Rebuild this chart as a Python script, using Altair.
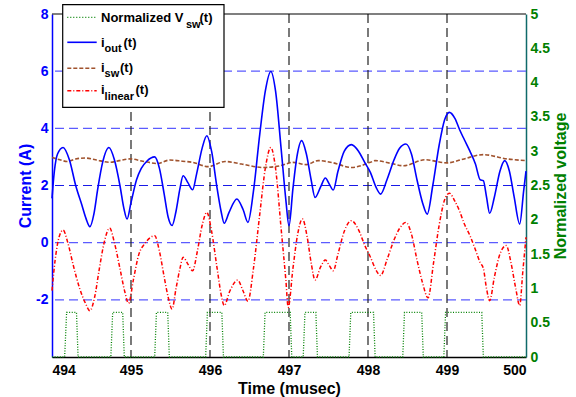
import altair as alt
import pandas as pd

# ---------------- data ----------------
t_out = [494.00, 494.03, 494.07, 494.14, 494.22, 494.30, 494.38, 494.43, 494.48, 494.53,
         494.58, 494.64, 494.72, 494.79, 494.86, 494.91, 494.95, 495.00, 495.07, 495.13,
         495.20, 495.30, 495.36, 495.42, 495.47, 495.52, 495.57, 495.62, 495.66, 495.72,
         495.78, 495.83, 495.90, 495.96, 496.02, 496.09, 496.14, 496.18, 496.24, 496.34,
         496.42, 496.48, 496.55, 496.63, 496.70, 496.77, 496.83, 496.90, 496.96, 497.00,
         497.05, 497.10, 497.16, 497.22, 497.28, 497.33, 497.40, 497.46, 497.51, 497.56,
         497.62, 497.70, 497.79, 497.88, 497.96, 498.03, 498.10, 498.16, 498.24, 498.33,
         498.40, 498.48, 498.55, 498.62, 498.69, 498.75, 498.82, 498.90, 498.97, 499.03,
         499.10, 499.16, 499.22, 499.29, 499.36, 499.42, 499.46, 499.50, 499.54, 499.60,
         499.67, 499.73, 499.79, 499.85, 499.92, 499.97, 500.00]
i_out = [1.55, 2.5, 3.1, 3.33, 2.9, 2.0, 1.3, 0.85, 0.56, 1.0,
         1.9, 2.8, 3.33, 2.9, 2.0, 1.2, 0.83, 1.4, 2.2, 2.6,
         2.85, 3.0, 2.6, 1.7, 0.9, 0.6, 1.1, 1.9, 2.34, 2.1,
         1.85, 2.4, 3.3, 3.74, 3.2, 1.9, 1.1, 0.68, 1.05, 1.53,
         1.15, 0.71, 1.8, 3.8, 5.3, 5.99, 5.3, 3.3, 1.5, 0.59,
         1.9, 3.0, 3.57, 3.1, 2.2, 1.58, 1.95, 2.26, 2.05, 1.84,
         2.5, 3.2, 3.43, 3.2, 2.8, 2.46, 1.95, 1.70, 2.2, 2.9,
         3.3, 3.45, 3.1, 2.2, 1.4, 1.0, 2.0, 3.4, 4.3, 4.56,
         4.35, 3.95, 3.6, 3.2, 2.75, 2.2, 2.17, 1.6, 1.03, 1.6,
         2.5, 2.87, 2.5, 1.6, 0.65, 1.8, 2.5]

t_lin = [494.00, 494.04, 494.09, 494.14, 494.20, 494.27, 494.35, 494.42, 494.48, 494.54,
         494.60, 494.66, 494.73, 494.79, 494.86, 494.92, 494.97, 495.03, 495.10, 495.17,
         495.30, 495.36, 495.42, 495.47, 495.52, 495.57, 495.62, 495.66, 495.72, 495.78,
         495.84, 495.90, 495.96, 496.02, 496.09, 496.14, 496.18, 496.25, 496.35, 496.42,
         496.48, 496.55, 496.63, 496.70, 496.77, 496.83, 496.90, 496.96, 496.99, 497.05,
         497.11, 497.17, 497.23, 497.28, 497.33, 497.40, 497.46, 497.51, 497.56, 497.62,
         497.70, 497.79, 497.88, 497.96, 498.03, 498.10, 498.16, 498.24, 498.33, 498.40,
         498.48, 498.55, 498.62, 498.69, 498.76, 498.83, 498.90, 498.97, 499.03, 499.10,
         499.16, 499.22, 499.29, 499.36, 499.42, 499.46, 499.50, 499.54, 499.60, 499.67,
         499.75, 499.81, 499.87, 499.92, 499.96, 500.00]
i_lin = [-1.68, -0.6, 0.2, 0.44, 0.0, -0.8, -1.6, -2.1, -2.38, -1.9,
         -0.9, 0.0, 0.51, 0.0, -0.9, -1.7, -2.12, -1.3, -0.4, -0.05,
         0.24, -0.3, -1.2, -1.9, -2.32, -1.6, -0.9, -0.51, -0.75, -0.98,
         -0.3, 0.6, 1.06, 0.4, -0.9, -1.8, -2.2, -1.7, -1.31, -1.7,
         -2.05, -0.9, 1.0, 2.6, 3.33, 2.6, 0.5, -1.3, -2.26, -0.9,
         0.3, 0.83, 0.2, -0.7, -1.31, -0.85, -0.61, -0.8, -0.98, -0.4,
         0.4, 0.77, 0.45, -0.1, -0.5, -0.95, -1.15, -0.6, 0.1, 0.5,
         0.71, 0.3, -0.6, -1.4, -1.93, -0.7, 0.6, 1.5, 1.73, 1.45,
         1.1, 0.65, 0.25, -0.25, -0.7, -0.9, -1.6, -2.03, -1.2, -0.4,
         -0.1, -0.7, -1.6, -2.2, -1.0, 0.19]

t_sw = [494.00, 494.10, 494.19, 494.30, 494.42, 494.55, 494.73, 494.85, 494.99, 495.15,
        495.33, 495.49, 495.65, 495.78, 495.98, 496.19, 496.40, 496.67, 496.89, 497.05,
        497.22, 497.37, 497.55, 497.79, 498.03, 498.09, 498.28, 498.45, 498.72, 499.00,
        499.20, 499.46, 499.76, 500.00]
i_sw = [2.98, 2.9, 2.84, 2.93, 2.96, 2.9, 2.81, 2.87, 2.93, 2.85,
        2.77, 2.89, 2.85, 2.81, 2.66, 2.84, 2.75, 2.63, 2.69, 2.81,
        2.73, 2.87, 2.8, 2.63, 2.81, 2.87, 2.78, 2.69, 2.9, 2.79,
        2.92, 3.08, 2.93, 2.87]

# switch voltage pulses: rise start, rise end, fall start, fall end
pulse_edges = [
    (494.160, 494.185, 494.310, 494.330),
    (494.745, 494.768, 494.895, 494.915),
    (495.300, 495.322, 495.465, 495.485),
    (495.945, 495.967, 496.150, 496.170),
    (496.675, 496.697, 497.015, 497.035),
    (497.180, 497.202, 497.340, 497.360),
    (497.760, 497.782, 498.070, 498.090),
    (498.440, 498.462, 498.680, 498.700),
    (498.960, 498.982, 499.440, 499.460),
]
v_high = 0.65

x_ticks = [494, 495, 496, 497, 498, 499, 500]
y_left_ticks = [-2, 0, 2, 4, 6, 8]
y_right_ticks = [0, 0.5, 1, 1.5, 2, 2.5, 3, 3.5, 4, 4.5, 5]
h_grid_light = [-2, 0, 4, 6]
h_grid_dark = [2]
v_grid = [495, 496, 497, 498, 499]

# ---------------- build tables ----------------
df_out = pd.DataFrame({"t": t_out, "v": i_out})
df_lin = pd.DataFrame({"t": t_lin, "v": i_lin})
df_sw = pd.DataFrame({"t": t_sw, "v": i_sw})
g_t, g_v = [494.0], [0.0]
for a, b, c, d in pulse_edges:
    g_t += [a, b, c, d]
    g_v += [0.0, v_high, v_high, 0.0]
g_t.append(500.0)
g_v.append(0.0)
df_v = pd.DataFrame({"t": g_t, "g": g_v})

FONT = "Liberation Sans"
BLUE = "#0000ff"
GREEN = "#008000"
BROWN = "#a0522d"
RED = "#ff0000"

x_enc = alt.X(
    "t:Q",
    scale=alt.Scale(domain=[494, 500], nice=False, zero=False),
    axis=alt.Axis(values=x_ticks, labelExpr="'' + datum.value", title="Time (musec)", ticks=False,
                  labelPadding=6, titlePadding=3, domainColor="black", domainWidth=1.5,
                  labelColor="black", titleColor="black", grid=False),
)
y_left = alt.Y(
    "v:Q",
    scale=alt.Scale(domain=[-4, 8], nice=False, zero=False),
    axis=alt.Axis(values=y_left_ticks, labelExpr="'' + datum.value", title="Current (A)", ticks=False,
                  labelPadding=4, domainColor=BLUE, domainWidth=1.5,
                  labelColor=BLUE, titleColor=BLUE, grid=False, orient="left",
                  titleX=-27, titleY=171.5, titleAngle=270, titleAlign="center",
                  titleBaseline="middle"),
)
y_right = alt.Y(
    "g:Q",
    scale=alt.Scale(domain=[0, 5], nice=False, zero=False),
    axis=alt.Axis(values=y_right_ticks, labelExpr="'' + datum.value", title="Normalized voltage",
                  ticks=False, labelPadding=4, domainColor="#0f6a6a", domainWidth=1.5,
                  labelColor=GREEN, titleColor=GREEN, grid=False, orient="right",
                  titleX=34, titleY=171.5, titleAngle=270, titleAlign="center",
                  titleBaseline="middle"),
)

hgrid = alt.Chart(pd.DataFrame({"v": h_grid_light})).mark_rule(
    color="#5b5bff", strokeDash=[9, 5], strokeWidth=1.2
).encode(y=y_left)
hgrid2 = alt.Chart(pd.DataFrame({"v": h_grid_dark})).mark_rule(
    color="#1a1ae6", strokeDash=[9, 5], strokeWidth=1.2
).encode(y=y_left)
vgrid = alt.Chart(pd.DataFrame({"t": v_grid})).mark_rule(
    color="#222222", strokeDash=[9, 5], strokeWidth=1.2
).encode(x=x_enc)

line_lin = alt.Chart(df_lin).mark_line(
    color=RED, strokeWidth=1.5, strokeDash=[4, 2, 1, 2], interpolate="monotone"
).encode(x=x_enc, y=y_left)
line_sw = alt.Chart(df_sw).mark_line(
    color=BROWN, strokeWidth=1.6, strokeDash=[4, 2], interpolate="monotone"
).encode(x=x_enc, y=y_left)
line_out = alt.Chart(df_out).mark_line(
    color=BLUE, strokeWidth=1.6, interpolate="monotone"
).encode(x=x_enc, y=y_left)

border = alt.Chart(pd.DataFrame({"a": [0]})).mark_rule(color="black", strokeWidth=1.2).encode(
    x=alt.value(0), x2=alt.value(474), y=alt.value(0)
)

# ---------------- hand-built legend with subscripts ----------------
one = pd.DataFrame({"a": [0]})
legend_layers = [
    alt.Chart(one).mark_rect(fill="white", stroke="black", strokeWidth=1.2).encode(
        x=alt.value(10.7), x2=alt.value(172), y=alt.value(-9.3), y2=alt.value(93.3)
    )
]
samples = [
    (3.3, GREEN, [1, 2], 1.3),
    (28.3, BLUE, [], 1.6),
    (54.3, BROWN, [4, 2], 1.6),
    (76.7, RED, [4, 2, 1, 2], 1.5),
]
for yy, col, dash, w in samples:
    kw = dict(color=col, strokeWidth=w)
    if dash:
        kw["strokeDash"] = dash
    legend_layers.append(
        alt.Chart(one).mark_rule(**kw).encode(
            x=alt.value(15.3), x2=alt.value(44.7), y=alt.value(yy)
        )
    )
pieces = [
    ("Normalized V", 49, 7.7, 13), ("sw", 134, 14.3, 11), ("(t)", 147.5, 7.7, 13),
    ("i", 49, 32.7, 13), ("out", 52.6, 38.3, 11), ("(t)", 71.5, 32.7, 13),
    ("i", 49, 57.7, 13), ("sw", 52.6, 62.7, 11), ("(t)", 68, 57.7, 13),
    ("i", 49, 80, 13), ("linear", 52.6, 86, 11), ("(t)", 83.5, 80, 13),
]
for txt, xx, yy, fs in pieces:
    legend_layers.append(
        alt.Chart(one).mark_text(
            text=txt, font=FONT, fontWeight="bold", fontSize=fs, align="left",
            baseline="alphabetic", color="black"
        ).encode(x=alt.value(xx), y=alt.value(yy))
    )

left = alt.layer(hgrid, hgrid2, vgrid, line_lin, line_sw, line_out, border, *legend_layers)

right = alt.Chart(df_v).mark_line(
    color=GREEN, strokeWidth=1.3, strokeDash=[1, 1.6]
).encode(x=x_enc, y=y_right)

chart = (
    alt.layer(left, right)
    .resolve_scale(y="independent")
    .properties(
        width=474, height=343,
        padding={"left": 52, "top": 14, "right": 50, "bottom": 40},
        autosize=alt.AutoSizeParams(type="none"),
        background="white",
    )
    .configure_view(stroke=None)
    .configure_axis(labelFont=FONT, titleFont=FONT, labelFontSize=14, titleFontSize=16,
                    labelFontWeight="bold", titleFontWeight="bold")
)

chart.save("out.html", embed_options={"renderer": "svg", "actions": False})
